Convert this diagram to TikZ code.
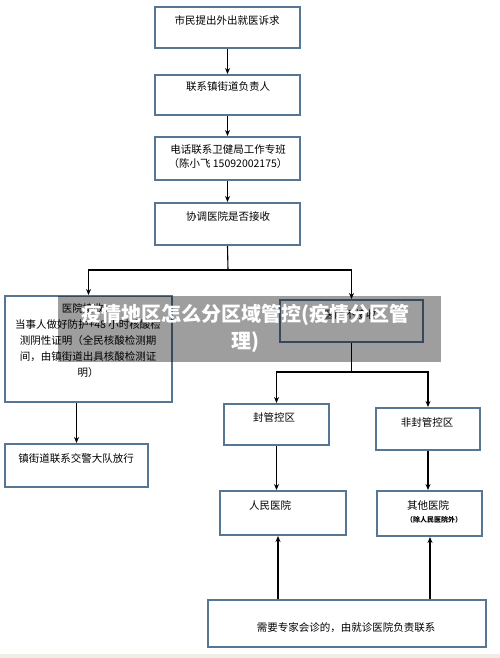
\documentclass[tikz,border=0pt]{standalone}
\usepackage{fontspec}
\setmainfont{Noto Sans CJK SC}
\usetikzlibrary{arrows.meta}
\definecolor{boxblue}{RGB}{86,118,148}
\definecolor{bandc}{RGB}{239,237,230}
\tikzset{
  box/.style={draw=boxblue, line width=2pt, fill=white, inner sep=0pt},
  txt/.style={inner sep=0pt, font=\fontsize{10.5}{13}\selectfont, align=center},
  conn/.style={draw=black, line width=1.1pt},
  arr/.style={conn, -{Stealth[length=6pt,width=5pt]}},
}
\begin{document}
\begin{tikzpicture}[x=1pt,y=-1pt]
\useasboundingbox (0,0) rectangle (500,658);
\fill[white] (0,0) rectangle (500,658);
\fill[bandc] (0,654) rectangle (500,658);

% boxes
\node[box, minimum width=145pt, minimum height=41pt] (b1) at (227.5,27.5) {};
\node[box, minimum width=145pt, minimum height=40pt] (b2) at (227.5,95) {};
\node[box, minimum width=145pt, minimum height=43pt] (b3) at (227.5,158.5) {};
\node[box, minimum width=145pt, minimum height=42pt] (b4) at (227.5,224) {};
\node[box, minimum width=167pt, minimum height=106pt] (bl) at (88.5,349) {};
\node[box, minimum width=143pt, minimum height=42pt] (br) at (351.5,321) {};
\node[box, minimum width=143pt, minimum height=43pt] (bj) at (76.5,465.5) {};
\node[box, minimum width=105pt, minimum height=41pt] (bf) at (276.5,424.5) {};
\node[box, minimum width=104pt, minimum height=42pt] (bn) at (428,429) {};
\node[box, minimum width=126pt, minimum height=44pt] (brm) at (283,513) {};
\node[box, minimum width=105pt, minimum height=45pt] (bqt) at (429.5,513.5) {};
\node[box, minimum width=278pt, minimum height=47pt] (bb) at (347,623.5) {};

% texts
\node[txt] (t1) at (227,20) {市民提出外出就医诉求};
\node[txt] (t2) at (228,87) {联系镇街道负责人};
\node[txt, font=\fontsize{10.5}{14}\selectfont] (t3) at (228,157) {电话联系卫健局工作专班\\（陈小飞 15092002175）};
\node[txt] (t4) at (228,216) {协调医院是否接收};
\node[txt, font=\fontsize{10.5}{16}\selectfont] (tl) at (88,341) {医院接收：\\当事人做好防护+48 小时核酸检\\测阴性证明（全民核酸检测期\\间，由镇街道出具核酸检测证\\明）};
\node[txt] (tr) at (350,314) {医院不接收};
\node[txt] (tj) at (76,459) {镇街道联系交警大队放行};
\node[txt] (tf) at (274,417) {封管控区};
\node[txt] (tn) at (427,422) {非封管控区};
\node[txt] (trm) at (270,505) {人民医院};
\node[txt] (tqt) at (428,505) {其他医院};
\node[txt, font=\fontsize{7}{8}\selectfont\bfseries] (tqt2) at (434,520) {（除人民医院外）};
\node[txt] (tb) at (346,628) {需要专家会诊的，由就诊医院负责联系};

% connectors
\draw[arr] (b1.south) -- (b2.north);
\draw[arr] (b2.south) -- (b3.north);
\draw[arr] (b3.south) -- (b4.north);
\coordinate (j1) at (228,270);
\draw[conn] (b4.south) -- (j1);
\draw[arr] (j1) -| (bl.north);
\draw[arr] (j1) -| (br.north);
\draw[arr] (bj.north |- bl.south) -- (bj.north);
\coordinate (j2) at (351.5,372);
\draw[conn] (br.south) -- (j2);
\draw[arr] (j2) -| (bf.north);
\draw[arr] (j2) -| (bn.north);
\draw[arr] (bf.south) -- (bf.south |- brm.north);
\draw[arr] (bn.south) -- (bn.south |- bqt.north);
\draw[arr] (bb.north -| 278,0) -- (brm.south -| 278,0);
\draw[arr] (bb.north -| 430,0) -- (bqt.south -| 430,0);

% overlay banner
\fill[black, opacity=0.38] (58,296) rectangle (441,362);
\node[inner sep=0pt, text=white, align=center, font=\fontsize{20}{27}\selectfont\bfseries] (ban) at (245,328) {疫情地区怎么分区域管控(疫情分区管\\理)};
\end{tikzpicture}
\end{document}
